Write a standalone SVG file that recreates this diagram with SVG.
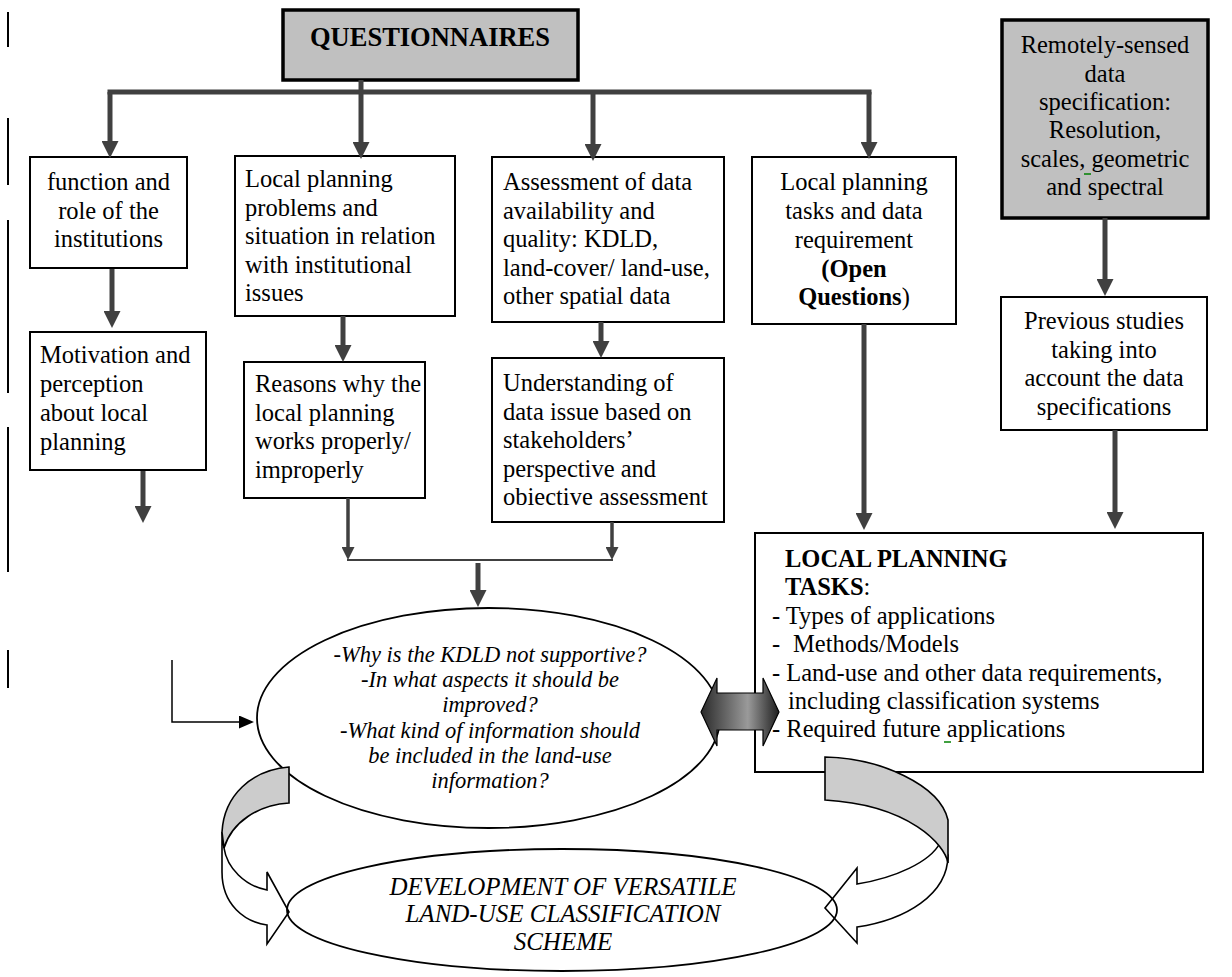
<svg xmlns="http://www.w3.org/2000/svg" width="1232" height="977" viewBox="0 0 1232 977">
<style>
  text { font-family: "Liberation Serif", "Times New Roman", serif; font-size: 24.5px; fill: #000; }
  .box { fill: #fff; stroke: #000; stroke-width: 2; }
  .gbox { fill: #c0c0c0; stroke: #000; stroke-width: 3.5; }
  .mid { text-anchor: middle; }
  .b { font-weight: bold; }
  .it { font-style: italic; font-size: 22.5px; }
  .it2 { font-style: italic; font-size: 25px; }
  .thick { stroke: #404040; stroke-width: 5; fill: none; }
  .med { stroke: #404040; stroke-width: 3.5; fill: none; }
  .thin { stroke: #404040; stroke-width: 2; fill: none; }
  .bar { stroke: #000; stroke-width: 2; }
  .curve { stroke: #000; stroke-width: 1.6; stroke-linejoin: miter; }
</style>
<defs>
  <marker id="ah" markerUnits="userSpaceOnUse" markerWidth="17" markerHeight="17" viewBox="0 0 17 17" refX="7" refY="8.5" orient="auto">
    <path d="M0,0 L17,8.5 L0,17 z" fill="#404040"/>
  </marker>
  <marker id="ahs" markerUnits="userSpaceOnUse" markerWidth="13" markerHeight="13" viewBox="0 0 13 13" refX="5" refY="6.5" orient="auto">
    <path d="M0,0 L13,6.5 L0,13 z" fill="#404040"/>
  </marker>
  <marker id="ahb" markerUnits="userSpaceOnUse" markerWidth="15" markerHeight="13" viewBox="0 0 15 13" refX="3" refY="6.5" orient="auto">
    <path d="M0,0 L15,6.5 L0,13 z" fill="#000"/>
  </marker>
  <linearGradient id="dgrad" x1="0" y1="0" x2="1" y2="0">
    <stop offset="0" stop-color="#2a2a2a"/>
    <stop offset="0.6" stop-color="#9a9a9a"/>
    <stop offset="1" stop-color="#1e1e1e"/>
  </linearGradient>
</defs>

<g id="margin-bars">
  <line class="bar" x1="8" y1="12" x2="8" y2="47"/>
  <line class="bar" x1="8" y1="118" x2="8" y2="185"/>
  <line class="bar" x1="8" y1="220" x2="8" y2="393"/>
  <line class="bar" x1="8" y1="427" x2="8" y2="572"/>
  <line class="bar" x1="8" y1="650" x2="8" y2="688"/>
</g>

<g id="questionnaires">
  <rect class="gbox" x="283" y="10" width="295" height="70"/>
  <text class="mid b" x="430" y="46" style="font-size:26.5px">QUESTIONNAIRES</text>
</g>

<g id="function-role">
  <rect class="box" x="30" y="157" width="157" height="111"/>
  <text class="mid" x="108.5" y="190">function and</text>
  <text class="mid" x="108.5" y="218.5">role of the</text>
  <text class="mid" x="108.5" y="247">institutions</text>
</g>

<g id="motivation">
  <rect class="box" x="30" y="332" width="176" height="138"/>
  <text x="40" y="363">Motivation and</text>
  <text x="40" y="392">perception</text>
  <text x="40" y="421">about local</text>
  <text x="40" y="450">planning</text>
</g>

<g id="local-planning-problems">
  <rect class="box" x="235" y="156" width="220" height="160"/>
  <text x="245" y="187">Local planning</text>
  <text x="245" y="215.5">problems and</text>
  <text x="245" y="244">situation in relation</text>
  <text x="245" y="272.5">with institutional</text>
  <text x="245" y="301">issues</text>
</g>

<g id="reasons">
  <rect class="box" x="244" y="362" width="181" height="136"/>
  <text x="255" y="392">Reasons why the</text>
  <text x="255" y="420.5">local planning</text>
  <text x="255" y="449">works properly/</text>
  <text x="255" y="477.5">improperly</text>
</g>

<g id="assessment">
  <rect class="box" x="492" y="157" width="232" height="165"/>
  <text x="503" y="190">Assessment of data</text>
  <text x="503" y="218.5">availability and</text>
  <text x="503" y="247">quality: KDLD,</text>
  <text x="503" y="275.5">land-cover/ land-use,</text>
  <text x="503" y="304">other spatial data</text>
</g>

<g id="understanding">
  <rect class="box" x="492" y="358" width="232" height="164"/>
  <text x="503" y="391">Understanding of</text>
  <text x="503" y="419.5">data issue based on</text>
  <text x="503" y="448">stakeholders’</text>
  <text x="503" y="476.5">perspective and</text>
  <text x="503" y="505">obiective assessment</text>
</g>

<g id="tasks-requirement">
  <rect class="box" x="752" y="157" width="204" height="167"/>
  <text class="mid" x="854" y="190">Local planning</text>
  <text class="mid" x="854" y="219">tasks and data</text>
  <text class="mid" x="854" y="248">requirement</text>
  <text class="mid b" x="854" y="277">(Open</text>
  <text class="mid" x="854" y="305"><tspan class="b">Questions</tspan>)</text>
</g>

<g id="remote-sensed">
  <rect class="gbox" x="1002" y="20" width="206" height="198"/>
  <text class="mid" x="1105" y="53">Remotely-sensed</text>
  <text class="mid" x="1105" y="82">data</text>
  <text class="mid" x="1105" y="110">specification:</text>
  <text class="mid" x="1105" y="138">Resolution,</text>
  <text class="mid" x="1105" y="167">scales, geometric</text>
  <text class="mid" x="1105" y="195">and spectral</text>
  <line x1="1084" y1="174" x2="1091" y2="174" stroke="#008000" stroke-width="1.5"/>
</g>

<g id="previous-studies">
  <rect class="box" x="1001" y="297" width="206" height="133"/>
  <text class="mid" x="1104" y="329">Previous studies</text>
  <text class="mid" x="1104" y="357.5">taking into</text>
  <text class="mid" x="1104" y="386">account the data</text>
  <text class="mid" x="1104" y="414.5">specifications</text>
</g>

<g id="local-planning-tasks">
  <rect class="box" x="755" y="533" width="448" height="239"/>
  <text class="b" x="785" y="567">LOCAL PLANNING</text>
  <text x="785" y="595"><tspan class="b">TASKS</tspan>:</text>
  <text x="772" y="624">- Types of applications</text>
  <text x="772" y="652">-<tspan x="793">Methods/Models</tspan></text>
  <text x="772" y="681">- Land-use and other data requirements,</text>
  <text x="788" y="709">including classification systems</text>
  <text x="772" y="737">- Required future applications</text>
  <line x1="944" y1="742" x2="951" y2="742" stroke="#008000" stroke-width="1.5"/>
</g>

<g id="questions-ellipse">
  <ellipse cx="488.5" cy="718" rx="231.5" ry="110" fill="#fff" stroke="#000" stroke-width="1.8"/>
  <text class="mid it" x="490" y="662">-Why is the KDLD not supportive?</text>
  <text class="mid it" x="490" y="687">-In what aspects it should be</text>
  <text class="mid it" x="490" y="712">improved?</text>
  <text class="mid it" x="490" y="738">-What kind of information should</text>
  <text class="mid it" x="490" y="763">be included in the land-use</text>
  <text class="mid it" x="490" y="788">information?</text>
</g>

<g id="development-ellipse-fill">
  <ellipse cx="562" cy="910" rx="275" ry="61" fill="#fff"/>
</g>

<g id="connectors">
  <line class="thick" x1="361" y1="80" x2="361" y2="149" marker-end="url(#ah)"/>
  <line class="thick" x1="107.5" y1="92" x2="871.5" y2="92"/>
  <line class="thick" x1="110" y1="92" x2="110" y2="148" marker-end="url(#ah)"/>
  <line class="thick" x1="593" y1="92" x2="593" y2="151" marker-end="url(#ah)"/>
  <line class="thick" x1="869" y1="92" x2="869" y2="149" marker-end="url(#ah)"/>
  <line class="thick" x1="112" y1="269" x2="112" y2="318" marker-end="url(#ah)"/>
  <line class="thick" x1="143" y1="471" x2="143" y2="513" marker-end="url(#ah)"/>
  <line class="thick" x1="343" y1="316" x2="343" y2="352" marker-end="url(#ah)"/>
  <line class="thick" x1="601" y1="322" x2="601" y2="348" marker-end="url(#ah)"/>
  <line class="med" x1="348" y1="498" x2="348" y2="552" marker-end="url(#ahs)"/>
  <line class="med" x1="612" y1="522" x2="612" y2="552" marker-end="url(#ahs)"/>
  <line class="thin" x1="347" y1="560" x2="613" y2="560"/>
  <line class="thick" x1="478" y1="563" x2="478" y2="597" marker-end="url(#ah)"/>
  <line class="thick" x1="864" y1="324" x2="864" y2="520" marker-end="url(#ah)"/>
  <line class="thick" x1="1105" y1="218" x2="1105" y2="286" marker-end="url(#ah)"/>
  <line class="thick" x1="1115" y1="430" x2="1115" y2="519" marker-end="url(#ah)"/>
  <path d="M172,660 V722 H242" fill="none" stroke="#000" stroke-width="1.5" marker-end="url(#ahb)"/>
</g>

<g id="double-arrow">
  <path d="M701,712 L717,678 L717,693 L763,693 L763,678 L779,712 L763,746 L763,730 L717,730 L717,746 Z" fill="url(#dgrad)" stroke="#000" stroke-width="1.2"/>
</g>

<g id="curved-arrow-left">
  <path class="curve" fill="#fff" d="M222,832 L222,872 C222,905 245,922 267,925 L267,944 L289,912 L267,872 L267,890 C245,886 227,868 224,848 Z"/>
  <path class="curve" fill="#cccccc" d="M289,767 C252,770 224,795 222,832 L224,848 C232,822 258,805 289,803 Z"/>
</g>

<g id="curved-arrow-right">
  <path class="curve" fill="#fff" d="M948,855 C948,895 905,920 857,927 L857,943 L825,908 L857,868 L857,884 C895,878 930,862 940,843 Z"/>
  <path class="curve" fill="#cccccc" d="M825,757 C880,758 940,785 948,820 L948,863 C945,845 910,805 825,800 Z"/>
</g>

<g id="development-ellipse">
  <ellipse cx="562" cy="910" rx="275" ry="61" fill="none" stroke="#000" stroke-width="1.8"/>
  <text class="mid it2" x="563" y="895">DEVELOPMENT OF VERSATILE</text>
  <text class="mid it2" x="563" y="922">LAND-USE CLASSIFICATION</text>
  <text class="mid it2" x="563" y="950">SCHEME</text>
</g>
</svg>
